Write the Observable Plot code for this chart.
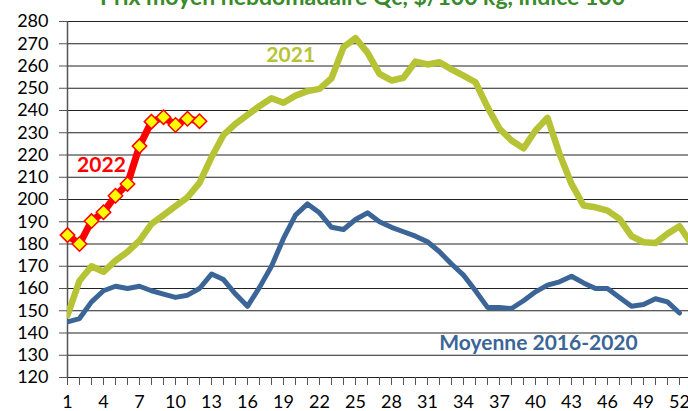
<!DOCTYPE html>
<html><head><meta charset="utf-8">
<script src="https://cdn.jsdelivr.net/npm/d3@7"></script>
<script src="https://cdn.jsdelivr.net/npm/@observablehq/plot@0.6"></script>
<style>
body{margin:0;background:#fff;overflow:hidden;}
#wrap{position:relative;width:688px;height:411px;overflow:hidden;}
#title{position:absolute;top:-15px;left:0;width:725px;text-align:center;font:bold 23px/23px Lato, sans-serif;color:#3a8a2c;white-space:nowrap;z-index:2;}
</style></head>
<body><div id="wrap"><div id="title"></div></div>
<script>
const title = "Prix moyen hebdomadaire Qc, $/100 kg, indice 100";
const yTicks = [120,130,140,150,160,170,180,190,200,210,220,230,240,250,260,270,280];
const xTickLabels = [1,4,7,10,13,16,19,22,25,28,31,34,37,40,43,46,49,52];
const weeks = d3.range(1, 54);
const moyenne = [145,146.5,154,159,161,160,161,159,157.5,156,157,160,166.5,164,157.5,152,160.5,170,182.5,193,198,194,187.5,186.5,191,194,190,187.5,185.5,183.5,181,176.5,171,166,159,151.5,151.5,151,154.5,158.5,161.5,163,165.5,162.5,160,160,156,152,152.8,155.4,154,149];
const y2021 = [148,163.5,170,167.5,172.5,176.5,181.5,189,193,197,201,207.5,219,229,234,238,242,245.5,243.5,246.7,248.7,249.7,254.5,268.5,272.5,266,256.5,253.5,254.7,262,260.7,261.7,258.5,255.7,252.7,241.5,231.8,226.5,223,231,236.7,220.5,207,197.3,196.5,195,191.3,183.5,180.8,180.4,184.6,188,180];
const y2022 = [184,180,190.3,194.3,201.7,207,224,235,237,233.5,236.3,235.2];

document.getElementById("title").textContent = title;
const rows = arr => arr.map((v, i) => ({week: weeks[i], value: v}));
const dM = rows(moyenne), d21 = rows(y2021), d22 = rows(y2022);

const font = "Lato, sans-serif";
const chart = Plot.plot({
  width: 688, height: 411,
  marginTop: 21, marginBottom: 34, marginLeft: 67, marginRight: 0,
  style: {fontFamily: font, fontSize: "18px", color: "#000", background: "transparent"},
  x: {domain: [1, 52.75]},
  y: {domain: [120, 280]},
  marks: [
    Plot.ruleY(yTicks, {stroke: "#222", strokeWidth: 1}),
    Plot.axisY({ticks: yTicks, tickSize: 8, tickPadding: 11, stroke: "#555", fontSize: 18, label: null}),
    Plot.axisX({ticks: weeks.slice(0, 52), tickSize: 8, tickPadding: 10, stroke: "#555", fontSize: 18, label: null,
      tickFormat: d => xTickLabels.includes(d) ? String(d) : ""}),
    Plot.ruleX([1], {stroke: "#555", strokeWidth: 1.5, y1: 120, y2: 280}),
    Plot.line(dM, {x: "week", y: "value", stroke: "#3b6597", strokeWidth: 5, clip: true}),
    Plot.line(d21, {x: "week", y: "value", stroke: "#b5c334", strokeWidth: 6.5, clip: true}),
    Plot.line(d22, {x: "week", y: "value", stroke: "#ff0000", strokeWidth: 7}),
    Plot.dot(d22, {x: "week", y: "value", symbol: "diamond2", r: 6.5, fill: "#ffff00", stroke: "#ff0000", strokeWidth: 1.5}),
    Plot.text(["2021"], {x: 19.6, y: 264.7, text: d => d, fill: "#b5c334", fontWeight: "bold", fontSize: 21}),
    Plot.text(["2022"], {x: 3.83, y: 215.3, text: d => d, fill: "#ff0000", fontWeight: "bold", fontSize: 21}),
    Plot.text(["Moyenne 2016-2020"], {x: 40.25, y: 135.3, text: d => d, fill: "#3b6597", fontWeight: "bold", fontSize: 21})
  ]
});
document.getElementById("wrap").appendChild(chart);
</script></body></html>
